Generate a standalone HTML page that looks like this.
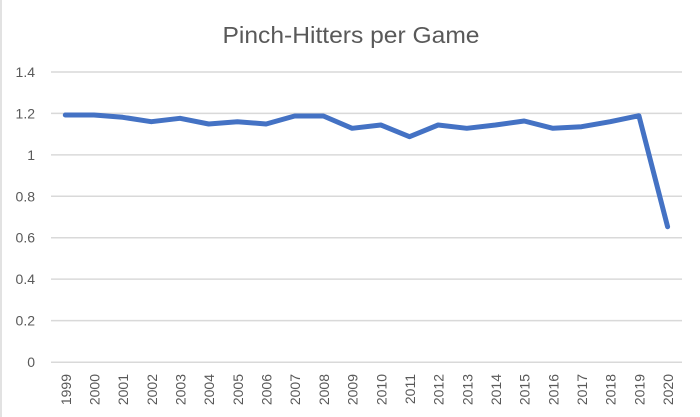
<!DOCTYPE html>
<html><head><meta charset="utf-8"><style>
html,body{margin:0;padding:0;background:#fff;}
svg{display:block;}
text{font-family:"Liberation Sans",sans-serif;fill:#595959;}
</style></head><body>
<svg width="700" height="417" viewBox="0 0 700 417" xmlns="http://www.w3.org/2000/svg">
<rect x="0" y="0" width="700" height="417" fill="#fff"/>
<line x1="1" y1="0" x2="1" y2="417" stroke="#d9d9d9" stroke-width="1.5"/>
<text x="351" y="43" font-size="23" text-anchor="middle" textLength="257" lengthAdjust="spacingAndGlyphs">Pinch-Hitters per Game</text>
<g stroke="#d9d9d9" stroke-width="1.5">
<line x1="51" y1="72" x2="682" y2="72"/>
<line x1="51" y1="113.4" x2="682" y2="113.4"/>
<line x1="51" y1="154.9" x2="682" y2="154.9"/>
<line x1="51" y1="196.3" x2="682" y2="196.3"/>
<line x1="51" y1="237.7" x2="682" y2="237.7"/>
<line x1="51" y1="279.1" x2="682" y2="279.1"/>
<line x1="51" y1="320.6" x2="682" y2="320.6"/>
<line x1="51" y1="362.2" x2="682" y2="362.2"/>
</g>
<g font-size="14" text-anchor="end">
<text x="35" y="77">1.4</text>
<text x="35" y="118.4">1.2</text>
<text x="35" y="159.9">1</text>
<text x="35" y="201.3">0.8</text>
<text x="35" y="242.7">0.6</text>
<text x="35" y="284.1">0.4</text>
<text x="35" y="325.6">0.2</text>
<text x="35" y="367.2">0</text>
</g>
<g font-size="14" text-anchor="end">
<text transform="translate(70.8,374) rotate(-90)">1999</text>
<text transform="translate(99.5,374) rotate(-90)">2000</text>
<text transform="translate(128.2,374) rotate(-90)">2001</text>
<text transform="translate(156.8,374) rotate(-90)">2002</text>
<text transform="translate(185.5,374) rotate(-90)">2003</text>
<text transform="translate(214.2,374) rotate(-90)">2004</text>
<text transform="translate(242.9,374) rotate(-90)">2005</text>
<text transform="translate(271.6,374) rotate(-90)">2006</text>
<text transform="translate(300.2,374) rotate(-90)">2007</text>
<text transform="translate(328.9,374) rotate(-90)">2008</text>
<text transform="translate(357.6,374) rotate(-90)">2009</text>
<text transform="translate(386.3,374) rotate(-90)">2010</text>
<text transform="translate(415,374) rotate(-90)">2011</text>
<text transform="translate(443.6,374) rotate(-90)">2012</text>
<text transform="translate(472.3,374) rotate(-90)">2013</text>
<text transform="translate(501,374) rotate(-90)">2014</text>
<text transform="translate(529.7,374) rotate(-90)">2015</text>
<text transform="translate(558.4,374) rotate(-90)">2016</text>
<text transform="translate(587,374) rotate(-90)">2017</text>
<text transform="translate(615.7,374) rotate(-90)">2018</text>
<text transform="translate(644.4,374) rotate(-90)">2019</text>
<text transform="translate(673.1,374) rotate(-90)">2020</text>
</g>
<polyline fill="none" stroke="#4472C4" stroke-width="5" stroke-linejoin="round" stroke-linecap="round"
points="65.3,115 94,115 122.7,117.3 151.3,121.7 180,118.3 208.7,124 237.4,121.7 266.1,124 294.7,116 323.4,116 352.1,128.3 380.8,125 409.5,136.7 438.1,125 466.8,128.3 495.5,125 524.2,121 552.9,128.3 581.5,126.7 610.2,121.7 638.9,115.7 667.6,226.7"/>
</svg>
</body></html>
